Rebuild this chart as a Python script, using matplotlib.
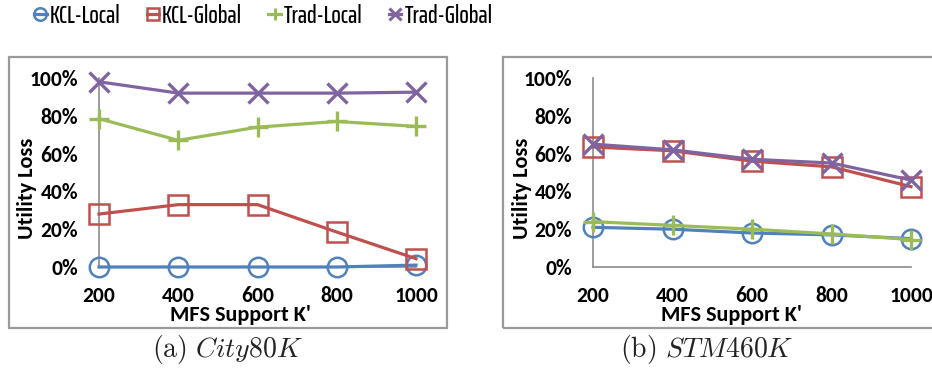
import matplotlib
matplotlib.use("Agg")
import matplotlib.pyplot as plt
import numpy as np
from matplotlib.patches import Rectangle
from matplotlib.lines import Line2D

plt.rcParams['mathtext.fontset'] = 'cm'

# MFS support values on the x axis
supports = ['200', '400', '600', '800', '1000']
y_ticks = [0, 0.2, 0.4, 0.6, 0.8, 1.0]
y_ticklabels = ['0%', '20%', '40%', '60%', '80%', '100%']

# City80K
city_kcl_local = [0.0, 0.0, 0.0, 0.0, 0.01]
city_kcl_global = [0.28, 0.33, 0.33, 0.185, 0.044]
city_trad_local = [0.785, 0.67, 0.74, 0.77, 0.744]
city_trad_global = [0.98, 0.92, 0.92, 0.92, 0.925]

# STM460K
stm_kcl_local = [0.21, 0.20, 0.18, 0.17, 0.15]
stm_kcl_global = [0.635, 0.615, 0.56, 0.53, 0.425]
stm_trad_local = [0.24, 0.22, 0.20, 0.175, 0.145]
stm_trad_global = [0.65, 0.62, 0.57, 0.55, 0.46]

names = ['KCL-Local', 'KCL-Global', 'Trad-Local', 'Trad-Global']
colors = ['#4f81bd', '#c0504d', '#9bbb59', '#8064a2']
markers = ['o', 's', '+', 'x']

W, H = 932, 368
fig = plt.figure(figsize=(W / 100, H / 100), dpi=100)


def px_axes(x0, x1, y_top, y_bot):
    return fig.add_axes([x0 / W, 1 - y_bot / H, (x1 - x0) / W, (y_bot - y_top) / H])


def frame(x0, x1, y0, y1):
    fig.patches.append(Rectangle((x0 / W, 1 - y1 / H), (x1 - x0) / W, (y1 - y0) / H,
                                 transform=fig.transFigure, fill=False,
                                 edgecolor='#9a9a9a', linewidth=1.6))


def draw_panel(ax, series, xlab_x, ylab_x):
    x = np.arange(len(supports))
    for vals, c, m in zip(series, colors, markers):
        mew = 2.4 if m in ('+', 'x') else 1.8
        ax.plot(x, vals, color=c, linewidth=2.3, marker=m, markersize=14,
                markerfacecolor='none', markeredgecolor=c, markeredgewidth=mew,
                clip_on=False, zorder=3)
    ax.set_xlim(0, 4)
    ax.set_ylim(0, 1)
    ax.set_xticks(x)
    ax.set_xticklabels(supports, fontfamily='Carlito', fontweight='bold', fontsize=15.5)
    ax.set_yticks(y_ticks)
    ax.set_yticklabels(y_ticklabels, fontfamily='Carlito', fontweight='bold', fontsize=15.5)
    for s in ('top', 'right'):
        ax.spines[s].set_visible(False)
    for s in ('left', 'bottom'):
        ax.spines[s].set_color('#8c8c8c')
        ax.spines[s].set_linewidth(1.2)
    ax.tick_params(axis='both', length=0)
    ax.tick_params(axis='y', pad=15)
    ax.tick_params(axis='x', pad=14)
    ax.set_xlabel("MFS Support K'", fontsize=16, fontweight='bold', family='Carlito', va='center')
    ax.set_ylabel('Utility Loss', fontsize=16, fontweight='bold', family='Carlito', va='center')
    ax.xaxis.set_label_coords(xlab_x, -0.254)
    ax.yaxis.set_label_coords(ylab_x, 0.418)
    ax.patch.set_visible(False)


frame(9, 447, 57, 328)
frame(503, 945, 57, 328)

ax1 = px_axes(99, 416, 78, 267)
draw_panel(ax1, [city_kcl_local, city_kcl_global, city_trad_local, city_trad_global], 0.445, -0.227)

ax2 = px_axes(593, 911, 78, 267)
draw_panel(ax2, [stm_kcl_local, stm_kcl_global, stm_trad_local, stm_trad_global], 0.437, -0.223)

fig.text(228 / W, 1 - 349 / H, r'$\mathrm{(a)}\ City80K$', fontsize=20, ha='center', va='center',
         color='#222222')
fig.text(707 / W, 1 - 349 / H, r'$\mathrm{(b)}\ STM460K$', fontsize=20, ha='center', va='center',
         color='#222222')

handles = [Line2D([], [], color=c, linewidth=2.3, marker=m, markersize=9,
                  markerfacecolor='none', markeredgecolor=c,
                  markeredgewidth=2.2 if m in ('+', 'x') else 1.8)
           for c, m in zip(colors, markers)]
fig.legend(handles, names, loc='center left', bbox_to_anchor=(34 / W, 1 - 16 / H), ncol=4,
           frameon=False, borderpad=0, borderaxespad=0, handlelength=0.5, handletextpad=0.12,
           columnspacing=1.05, prop={'family': 'Saira ExtraCondensed', 'weight': 500, 'size': 18})

fig.savefig('out.png', dpi=100)
